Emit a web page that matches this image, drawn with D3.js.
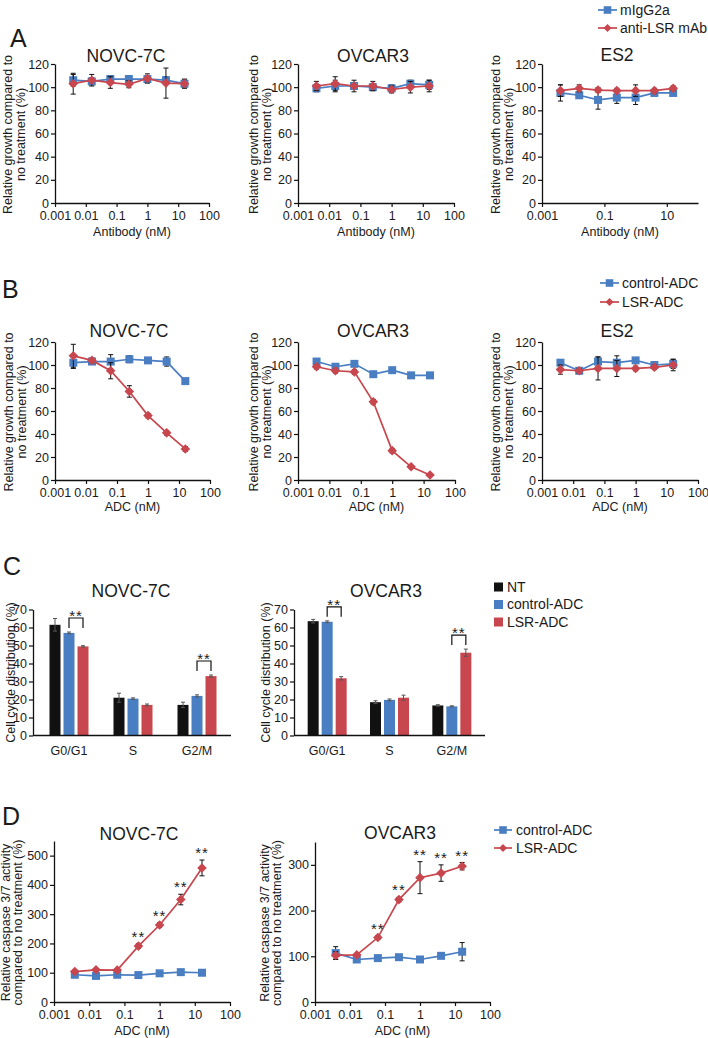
<!DOCTYPE html>
<html><head><meta charset="utf-8">
<script src="https://cdn.jsdelivr.net/npm/d3@7"></script>
<style>
body{margin:0;background:#fff}
svg{display:block}
text{font-family:"Liberation Sans",Arial,Helvetica,sans-serif;fill:#1a1a1a}
</style>
</head><body>
<svg id="c" width="708" height="1038"></svg>
<script>
// ---------------- DATA ----------------
const conc = [0.0039, 0.0156, 0.0625, 0.25, 1, 4, 16];
const logTicksAll = [0.001, 0.01, 0.1, 1, 10, 100];
const logTicksAlt = [0.001, 0.1, 10];
const growthTicks = [0, 20, 40, 60, 80, 100, 120];
const cycleTicks = [0, 10, 20, 30, 40, 50, 60, 70];
const caspNovcTicks = [0, 100, 200, 300, 400, 500];
const caspOvcarTicks = [0, 100, 200, 300];

// Panel A (antibody)
const A_novc_mIgG = [106, 105, 107, 107, 107, 106, 103];
const A_novc_mIgG_err = [5, 3, 3, 3, 3, 3, 3];
const A_novc_antiLSR = [103, 106, 104, 102.5, 107.5, 103.5, 103];
const A_novc_antiLSR_err = [9, 5, 5, 3, 4, 13, 4];
const A_ovcar_mIgG = [99, 101, 101, 100, 99, 103, 102];
const A_ovcar_mIgG_err = [3, 5, 3, 3, 3, 3, 4];
const A_ovcar_antiLSR = [101, 103, 101, 101, 98, 100, 101];
const A_ovcar_antiLSR_err = [4, 6, 5, 4, 3, 5, 5];
const A_es2_mIgG = [95, 93, 89, 91, 91, 95, 95];
const A_es2_mIgG_err = [7, 2, 8, 5, 6, 2, 2];
const A_es2_antiLSR = [97, 99, 97.5, 97, 97, 97, 99];
const A_es2_antiLSR_err = [5, 3, 2, 2, 5, 2, 2];

// Panel B (ADC)
const B_novc_ctrl = [102, 103, 103, 105, 104, 103, 86];
const B_novc_ctrl_err = [5, 2, 6, 3, 2, 4, 1];
const B_novc_lsr = [108, 104, 95, 77, 56, 41, 27];
const B_novc_lsr_err = [10, 2, 7, 5, 2, 2, 2];
const B_ovcar_ctrl = [103, 98.5, 101, 92, 95.5, 91, 91];
const B_ovcar_ctrl_err = [2, 2, 2, 2, 2, 1, 1];
const B_ovcar_lsr = [98.5, 95, 94, 68, 25.5, 11.5, 4.3];
const B_ovcar_lsr_err = [2, 2, 2, 2, 2, 1, 1];
const B_es2_ctrl = [102, 95, 103, 102, 104, 100, 101];
const B_es2_ctrl_err = [2, 2, 4, 6, 2, 2, 4];
const B_es2_lsr = [96, 95, 97, 97, 97, 98, 100];
const B_es2_lsr_err = [4, 2, 10, 7, 2, 2, 5];

// Panel C (cell cycle)
const phases = ["G0/G1", "S", "G2/M"];
const treatments = ["NT", "control-ADC", "LSR-ADC"];
const C_novc_NT = [61.5, 21, 17];
const C_novc_NT_err = [3.5, 2.5, 1.5];
const C_novc_ctrl = [57, 20.5, 22];
const C_novc_ctrl_err = [0.5, 0.4, 0.6];
const C_novc_lsr = [49.5, 17, 33];
const C_novc_lsr_err = [0.4, 0.5, 0.6];
const C_ovcar_NT = [63.5, 18.5, 16.7];
const C_ovcar_NT_err = [1, 0.8, 0.4];
const C_ovcar_ctrl = [63.2, 19.8, 16.2];
const C_ovcar_ctrl_err = [0.5, 0.5, 0.3];
const C_ovcar_lsr = [31.8, 21, 46];
const C_ovcar_lsr_err = [0.9, 1.4, 2];
const C_sigPhases = [0, 2]; // ** between control-ADC and LSR-ADC

// Panel D (caspase)
const D_novc_ctrl = [93, 89, 93, 92, 98, 102, 100];
const D_novc_ctrl_err = [5, 4, 3, 3, 3, 4, 3];
const D_novc_lsr = [104, 110, 109, 191, 263, 350, 458];
const D_novc_lsr_err = [5, 4, 4, 8, 8, 18, 27];
const D_novc_sig = [3, 4, 5, 6];
const D_ovcar_ctrl = [107, 93, 96, 98, 93, 101, 110];
const D_ovcar_ctrl_err = [14, 4, 3, 3, 3, 4, 20];
const D_ovcar_lsr = [102, 103, 141, 224, 272, 282, 297];
const D_ovcar_lsr_err = [8, 3, 4, 5, 35, 18, 8];
const D_ovcar_sig = [2, 3, 4, 5, 6];

// ---------------- STYLE ----------------
const BLUE = "#4a7ec2", RED = "#c8464e", BLACK = "#111111";
const svg = d3.select("#c");
const fmtTick = d => String(d);

function diamond(r){ return `M0,${-r}L${r},0L0,${r}L${-r},0Z`; }
function square(r){ return `M${-r},${-r}H${r}V${r}H${-r}Z`; }

function yTitle(lines, cx, cy, spacing){
  const t = svg.append("text")
    .attr("transform", `translate(${cx},${cy}) rotate(-90)`)
    .attr("text-anchor", "middle").style("font-size", "12.5px");
  lines.forEach((l, i) => t.append("tspan").attr("x", 0)
    .attr("y", (i - (lines.length - 1) / 2) * spacing).attr("dy", "0.35em").text(l));
}

function styleAxis(g){
  g.selectAll("path.domain").attr("stroke", BLACK).attr("stroke-width", 1.3);
  g.selectAll(".tick line").attr("stroke", BLACK).attr("stroke-width", 1.2);
  g.selectAll(".tick text").style("font-size", "12.5px")
    .style("font-family", '"Liberation Sans",Arial,sans-serif').attr("fill", "#1a1a1a");
}

function panelLetter(t, x, y){
  svg.append("text").attr("x", x).attr("y", y).style("font-size", "25px").text(t);
}

function title(t, x, y){
  svg.append("text").attr("x", x).attr("y", y).attr("text-anchor", "middle")
    .style("font-size", "17.5px").text(t);
}

function logPanel(cfg){
  const x = d3.scaleLog().domain([0.001, 100]).range([cfg.x0, cfg.x1]);
  const y = d3.scaleLinear().domain([0, cfg.yMax]).range([cfg.yBot, cfg.yTop]);
  const g = svg.append("g");
  const gx = g.append("g").attr("transform", `translate(0,${cfg.yBot})`)
    .call(d3.axisBottom(x).tickValues(cfg.xTicks).tickFormat(fmtTick).tickSize(4).tickSizeOuter(0).tickPadding(4));
  styleAxis(gx);
  const gy = g.append("g").attr("transform", `translate(${cfg.x0},0)`)
    .call(d3.axisLeft(y).tickValues(cfg.yTicks).tickSize(4).tickSizeOuter(0).tickPadding(2));
  styleAxis(gy);
  g.append("text").attr("x", (cfg.x0 + cfg.x1) / 2).attr("y", cfg.xLabelY)
    .attr("text-anchor", "middle").style("font-size", "12.5px").text(cfg.xLabel);
  yTitle(cfg.yLabel, cfg.yLabelX, (cfg.yTop + cfg.yBot) / 2 + 1, cfg.ySpacing || 13);
  title(cfg.title, cfg.titleX, cfg.titleY);

  cfg.series.forEach(s => {
    const pts = conc.map((c, i) => ({c, v: s.vals[i], e: s.err[i]}));
    const eb = g.append("g").attr("stroke", BLACK).attr("stroke-width", 1);
    pts.forEach(p => {
      const xx = x(p.c), top = y(p.v + p.e), bot = y(p.v - p.e);
      eb.append("line").attr("x1", xx).attr("x2", xx).attr("y1", top).attr("y2", bot);
      eb.append("line").attr("x1", xx - 2.5).attr("x2", xx + 2.5).attr("y1", top).attr("y2", top);
      eb.append("line").attr("x1", xx - 2.5).attr("x2", xx + 2.5).attr("y1", bot).attr("y2", bot);
    });
    g.append("path").datum(pts).attr("fill", "none").attr("stroke", s.color).attr("stroke-width", 1.7)
      .attr("d", d3.line().x(p => x(p.c)).y(p => y(p.v)));
    g.selectAll(null).data(pts).join("path")
      .attr("transform", p => `translate(${x(p.c)},${y(p.v)})`)
      .attr("d", s.shape === "square" ? square(4) : diamond(4.8))
      .attr("fill", s.color);
    if (s.sig) {
      s.sig.forEach(i => {
        const p = pts[i];
        g.append("text").attr("x", x(p.c)).attr("y", y(p.v + p.e) - 2)
          .attr("text-anchor", "middle").style("font-size", "15px").style("letter-spacing", "1px")
          .text("**");
      });
    }
  });
}

function legendLines(items, x0, x1, ys, tx, fs){
  items.forEach((it, i) => {
    svg.append("line").attr("x1", x0).attr("x2", x1).attr("y1", ys[i]).attr("y2", ys[i])
      .attr("stroke", it.color).attr("stroke-width", 1.7);
    svg.append("path").attr("transform", `translate(${(x0 + x1) / 2},${ys[i]})`)
      .attr("d", it.shape === "square" ? square(3.8) : diamond(4)).attr("fill", it.color);
    svg.append("text").attr("x", tx).attr("y", ys[i]).attr("dy", "0.35em")
      .style("font-size", fs + "px").text(it.label);
  });
}

// ---------------- PANEL A ----------------
panelLetter("A", 10, 47);
const growthLabel = ["Relative growth compared to", "no treatment (%)"];
logPanel({x0: 55, x1: 209, yTop: 64, yBot: 203, yMax: 120, yTicks: growthTicks, xTicks: logTicksAll,
  xLabel: "Antibody (nM)", xLabelY: 236, yLabel: growthLabel, yLabelX: 14,
  title: "NOVC-7C", titleX: 126, titleY: 62,
  series: [
    {vals: A_novc_mIgG, err: A_novc_mIgG_err, color: BLUE, shape: "square"},
    {vals: A_novc_antiLSR, err: A_novc_antiLSR_err, color: RED, shape: "diamond"}]});
logPanel({x0: 298, x1: 454, yTop: 64, yBot: 203, yMax: 120, yTicks: growthTicks, xTicks: logTicksAll,
  xLabel: "Antibody (nM)", xLabelY: 236, yLabel: growthLabel, yLabelX: 260,
  title: "OVCAR3", titleX: 373, titleY: 62,
  series: [
    {vals: A_ovcar_mIgG, err: A_ovcar_mIgG_err, color: BLUE, shape: "square"},
    {vals: A_ovcar_antiLSR, err: A_ovcar_antiLSR_err, color: RED, shape: "diamond"}]});
logPanel({x0: 542, x1: 698, yTop: 64, yBot: 203, yMax: 120, yTicks: growthTicks, xTicks: logTicksAlt,
  xLabel: "Antibody (nM)", xLabelY: 236, yLabel: growthLabel, yLabelX: 502,
  title: "ES2", titleX: 617, titleY: 61,
  series: [
    {vals: A_es2_mIgG, err: A_es2_mIgG_err, color: BLUE, shape: "square"},
    {vals: A_es2_antiLSR, err: A_es2_antiLSR_err, color: RED, shape: "diamond"}]});
legendLines([{label: "mIgG2a", color: BLUE, shape: "square"}, {label: "anti-LSR mAb", color: RED, shape: "diamond"}],
  598, 617, [10, 28], 620, 14);

// ---------------- PANEL B ----------------
panelLetter("B", 2, 298);
logPanel({x0: 55, x1: 210, yTop: 342, yBot: 480, yMax: 120, yTicks: growthTicks, xTicks: logTicksAll,
  xLabel: "ADC (nM)", xLabelY: 511, yLabel: growthLabel, yLabelX: 15,
  title: "NOVC-7C", titleX: 129, titleY: 337,
  series: [
    {vals: B_novc_ctrl, err: B_novc_ctrl_err, color: BLUE, shape: "square"},
    {vals: B_novc_lsr, err: B_novc_lsr_err, color: RED, shape: "diamond"}]});
logPanel({x0: 298, x1: 455, yTop: 342, yBot: 480, yMax: 120, yTicks: growthTicks, xTicks: logTicksAll,
  xLabel: "ADC (nM)", xLabelY: 511, yLabel: growthLabel, yLabelX: 260,
  title: "OVCAR3", titleX: 373, titleY: 337,
  series: [
    {vals: B_ovcar_ctrl, err: B_ovcar_ctrl_err, color: BLUE, shape: "square"},
    {vals: B_ovcar_lsr, err: B_ovcar_lsr_err, color: RED, shape: "diamond"}]});
logPanel({x0: 542, x1: 698, yTop: 342, yBot: 480, yMax: 120, yTicks: growthTicks, xTicks: logTicksAll,
  xLabel: "ADC (nM)", xLabelY: 511, yLabel: growthLabel, yLabelX: 502,
  title: "ES2", titleX: 617, titleY: 337,
  series: [
    {vals: B_es2_ctrl, err: B_es2_ctrl_err, color: BLUE, shape: "square"},
    {vals: B_es2_lsr, err: B_es2_lsr_err, color: RED, shape: "diamond"}]});
legendLines([{label: "control-ADC", color: BLUE, shape: "square"}, {label: "LSR-ADC", color: RED, shape: "diamond"}],
  600, 619, [283, 302], 622, 14);

// ---------------- PANEL C ----------------
panelLetter("C", 3, 575);
function barPanel(cfg){
  const x = d3.scaleBand().domain(phases).range([cfg.bx0, cfg.bx1]);
  const y = d3.scaleLinear().domain([0, 70]).range([cfg.yBot, cfg.yTop]);
  const g = svg.append("g");
  const colors = [BLACK, BLUE, RED];
  const step = 14, bw = 11;
  cfg.sets.forEach((set, k) => {
    phases.forEach((ph, i) => {
      const cx = x(ph) + x.bandwidth() / 2 + (k - 1) * step;
      g.append("rect").attr("x", cx - bw / 2).attr("width", bw)
        .attr("y", y(set.vals[i])).attr("height", y(0) - y(set.vals[i])).attr("fill", colors[k]);
      const t = y(set.vals[i] + set.err[i]), b = y(set.vals[i] - set.err[i]);
      g.append("line").attr("x1", cx).attr("x2", cx).attr("y1", t).attr("y2", b).attr("stroke", "#555").attr("stroke-width", 1);
      [t, b].forEach(yy => g.append("line").attr("x1", cx - 2).attr("x2", cx + 2).attr("y1", yy).attr("y2", yy)
        .attr("stroke", "#555").attr("stroke-width", 1));
    });
  });
  const gy = g.append("g").attr("transform", `translate(${cfg.ax},0)`)
    .call(d3.axisLeft(y).tickValues(cycleTicks).tickSize(4).tickSizeOuter(0).tickPadding(2));
  styleAxis(gy);
  g.append("line").attr("x1", cfg.ax).attr("x2", cfg.axEnd).attr("y1", cfg.yBot).attr("y2", cfg.yBot)
    .attr("stroke", BLACK).attr("stroke-width", 1.3);
  phases.forEach(ph => g.append("text").attr("x", x(ph) + x.bandwidth() / 2).attr("y", cfg.yBot + 19)
    .attr("text-anchor", "middle").style("font-size", "12.5px").text(ph));
  // significance brackets
  C_sigPhases.forEach(i => {
    const c1 = x(phases[i]) + x.bandwidth() / 2, c2 = c1 + step;
    const top1 = y(cfg.sets[1].vals[i] + cfg.sets[1].err[i]);
    const top2 = y(cfg.sets[2].vals[i] + cfg.sets[2].err[i]);
    const by = Math.min(top1, top2) - 14;
    g.append("path").attr("fill", "none").attr("stroke", BLACK).attr("stroke-width", 1.2)
      .attr("d", `M${c1},${by + 10}V${by}H${c2}V${by + 10}`);
    g.append("text").attr("x", (c1 + c2) / 2).attr("y", by + 3).attr("text-anchor", "middle")
      .style("font-size", "15px").style("letter-spacing", "1px").text("**");
  });
  yTitle(["Cell cycle distribution (%)"], cfg.yLabelX, (cfg.yTop + cfg.yBot) / 2, 13);
  title(cfg.title, cfg.titleX, 597);
}
barPanel({bx0: 37, bx1: 229, ax: 33, axEnd: 231, yTop: 609.5, yBot: 735.5, yLabelX: 11,
  title: "NOVC-7C", titleX: 131,
  sets: [{vals: C_novc_NT, err: C_novc_NT_err}, {vals: C_novc_ctrl, err: C_novc_ctrl_err}, {vals: C_novc_lsr, err: C_novc_lsr_err}]});
barPanel({bx0: 296, bx1: 483, ax: 294, axEnd: 485, yTop: 609.5, yBot: 735.5, yLabelX: 266,
  title: "OVCAR3", titleX: 386,
  sets: [{vals: C_ovcar_NT, err: C_ovcar_NT_err}, {vals: C_ovcar_ctrl, err: C_ovcar_ctrl_err}, {vals: C_ovcar_lsr, err: C_ovcar_lsr_err}]});
[BLACK, BLUE, RED].forEach((col, i) => {
  const yy = [587, 604.5, 622][i];
  svg.append("rect").attr("x", 494).attr("y", yy - 4.5).attr("width", 9).attr("height", 9).attr("fill", col);
  svg.append("text").attr("x", 507).attr("y", yy).attr("dy", "0.35em").style("font-size", "14px").text(treatments[i]);
});

// ---------------- PANEL D ----------------
panelLetter("D", 2, 825);
const caspLabel = ["Relative caspase 3/7 activity", "compared to no treatment (%)"];
logPanel({x0: 54, x1: 230, yTop: 841, yBot: 1002, yMax: 550, yTicks: caspNovcTicks, xTicks: logTicksAll,
  xLabel: "ADC (nM)", xLabelY: 1035, yLabel: caspLabel, yLabelX: 12, ySpacing: 12,
  title: "NOVC-7C", titleX: 139, titleY: 840,
  series: [
    {vals: D_novc_ctrl, err: D_novc_ctrl_err, color: BLUE, shape: "square"},
    {vals: D_novc_lsr, err: D_novc_lsr_err, color: RED, shape: "diamond", sig: D_novc_sig}]});
logPanel({x0: 315, x1: 490, yTop: 842, yBot: 1002, yMax: 350, yTicks: caspOvcarTicks, xTicks: logTicksAll,
  xLabel: "ADC (nM)", xLabelY: 1035, yLabel: caspLabel, yLabelX: 271, ySpacing: 12,
  title: "OVCAR3", titleX: 400, titleY: 839,
  series: [
    {vals: D_ovcar_ctrl, err: D_ovcar_ctrl_err, color: BLUE, shape: "square"},
    {vals: D_ovcar_lsr, err: D_ovcar_lsr_err, color: RED, shape: "diamond", sig: D_ovcar_sig}]});
legendLines([{label: "control-ADC", color: BLUE, shape: "square"}, {label: "LSR-ADC", color: RED, shape: "diamond"}],
  494, 512, [830, 848], 516, 14);
</script>
</body></html>
